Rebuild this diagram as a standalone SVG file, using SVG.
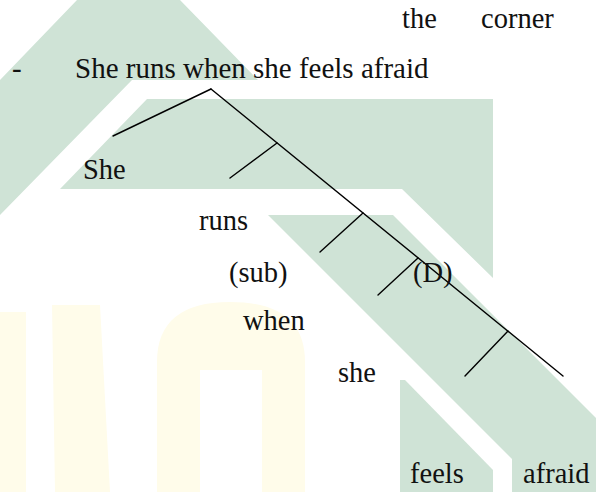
<svg xmlns="http://www.w3.org/2000/svg" width="596" height="492" viewBox="0 0 596 492">
  <style>
    .wm { fill: #cfe3d6; }
    .wy { fill: #fffcea; }
    .t { font-family: "Liberation Serif", Tinos, "Times New Roman", "DejaVu Serif", serif; font-size: 28.5px; fill: #111; }
    .hd { font-size: 29px; }
    .ln { stroke: #000; stroke-width: 1.4; fill: none; stroke-linecap: round; }
  </style>
  <rect width="596" height="492" fill="#ffffff"/>
  <g id="watermark">
    <polygon class="wm" points="77,0 180,0 258,80 132,80 0,215 0,80"/>
    <polygon class="wm" points="147,99 493,99 493,278 402,189 60,189"/>
    <polygon class="wm" points="268,215 393,215 596,418 596,492 512,492 512,459"/>
    <polygon class="wm" points="400,380 405,380 493,470 493,492 400,492"/>
    <rect class="wy" x="0" y="312" width="26" height="180"/>
    <polygon class="wy" points="52,305 100,305 110,492 55,492"/>
    <path class="wy" d="M157,492 L157,362 Q157,302 230,302 Q305,302 305,362 L305,492 L262,492 L262,370 L200,370 L200,492 Z"/>
  </g>
  <g id="prev-line" class="t">
    <text x="402" y="28">the</text>
    <text x="481" y="28">corner</text>
  </g>
  <g id="sentence" class="t hd">
    <text x="12" y="78">-</text>
    <text x="75" y="78">She runs when she feels afraid</text>
  </g>
  <g id="connectors">
    <line class="ln" x1="211" y1="89" x2="113" y2="136"/>
    <line class="ln" x1="211" y1="89" x2="563" y2="376"/>
    <line class="ln" x1="277" y1="143" x2="230" y2="178"/>
    <line class="ln" x1="363" y1="213" x2="320" y2="252"/>
    <line class="ln" x1="418" y1="258" x2="378" y2="295"/>
    <line class="ln" x1="508" y1="331" x2="465" y2="376"/>
  </g>
  <g id="node-she" class="t"><text x="83" y="179">She</text></g>
  <g id="node-runs" class="t"><text x="199" y="230">runs</text></g>
  <g id="node-sub" class="t"><text x="229" y="282">(sub)</text></g>
  <g id="node-d" class="t"><text x="413" y="282">(D)</text></g>
  <g id="node-when" class="t"><text x="243" y="330">when</text></g>
  <g id="node-she2" class="t"><text x="338" y="382">she</text></g>
  <g id="node-feels" class="t"><text x="410" y="483">feels</text></g>
  <g id="node-afraid" class="t"><text x="523" y="483">afraid</text></g>
</svg>
